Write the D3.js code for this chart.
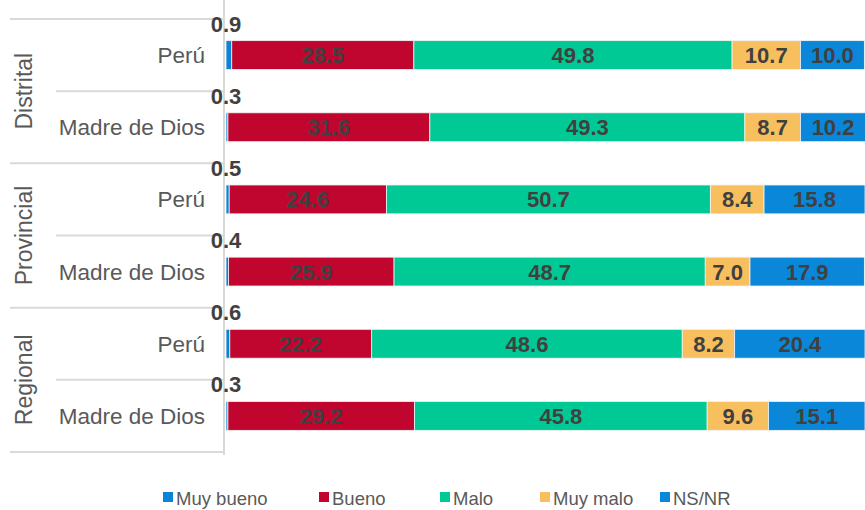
<!DOCTYPE html>
<meta charset="utf-8">
<style>
body, html {
    margin: 0;
    padding: 0;
    background: #fff;
    overflow: hidden;
}
text {
    font-family: "Liberation Sans", Arial, sans-serif;
}
</style>
<svg width="865" height="510"></svg>
<script src="https://cdn.jsdelivr.net/npm/d3@7"></script>
<script>

var groups = ["Distrital", "Provincial", "Regional"];
var places = ["Perú", "Madre de Dios"];
var series = ["Muy bueno", "Bueno", "Malo", "Muy malo", "NS/NR"];
var colors = ["#0a84d6", "#c0062f", "#00c995", "#f8bf5f", "#0a87d9"];

// one row per group/place, values in series order
var muyBueno = [0.9, 0.3, 0.5, 0.4, 0.6, 0.3];
var bueno    = [28.5, 31.6, 24.6, 25.9, 22.2, 29.2];
var malo     = [49.8, 49.3, 50.7, 48.7, 48.6, 45.8];
var muyMalo  = [10.7, 8.7, 8.4, 7.0, 8.2, 9.6];
var nsnr     = [10.0, 10.2, 15.8, 17.9, 20.4, 15.1];

var rows = [];
groups.forEach(function(g, gi) {
    places.forEach(function(p, pi) {
        var i = gi * 2 + pi;
        rows.push({ key: g + "|" + p, group: g, place: p,
            vals: [muyBueno[i], bueno[i], malo[i], muyMalo[i], nsnr[i]] });
    });
});

var svg = d3.select("svg");

var x = d3.scaleLinear().domain([0, 100]).range([226, 865]);
var y = d3.scaleBand().domain(rows.map(function(d) { return d.key; }))
    .range([19, 452]).paddingInner(0.6).paddingOuter(0.3);
var step = y.step();

// separators
var grid = svg.append("g").attr("stroke", "#d9d9d9").attr("stroke-width", 2);
rows.forEach(function(d, i) {
    var top = y(d.key) - step * y.paddingOuter();
    grid.append("line")
        .attr("x1", i % 2 === 0 ? 10 : 56).attr("x2", 224)
        .attr("y1", top).attr("y2", top);
});
grid.append("line").attr("x1", 10).attr("x2", 224).attr("y1", 452).attr("y2", 452);
grid.append("line").attr("x1", 224).attr("x2", 224).attr("y1", 0).attr("y2", 455);

// bars
rows.forEach(function(d) {
    var acc = 0;
    var g = svg.append("g");
    d.vals.forEach(function(v, si) {
        var x0 = acc;
        acc += v;
        g.append("rect")
            .attr("x", x(x0)).attr("y", y(d.key))
            .attr("width", Math.max(0, x(acc) - x(x0)))
            .attr("height", y.bandwidth())
            .attr("fill", colors[si])
            .attr("stroke", "#f2f2f2").attr("stroke-width", 0.8);
        if (si > 0) {
            g.append("text")
                .attr("x", (x(x0) + x(acc)) / 2)
                .attr("y", y(d.key) + y.bandwidth() / 2 + 8)
                .attr("text-anchor", "middle")
                .attr("font-size", 22).attr("font-weight", "bold")
                .attr("fill", "#404040")
                .text(d3.format(".1f")(v));
        } else {
            g.append("text")
                .attr("x", x(0))
                .attr("y", y(d.key) - 9)
                .attr("text-anchor", "middle")
                .attr("font-size", 22).attr("font-weight", "bold")
                .attr("fill", "#404040")
                .text(d3.format(".1f")(v));
        }
    });
    svg.append("text")
        .attr("x", 205)
        .attr("y", y(d.key) + y.bandwidth() / 2 + 8)
        .attr("text-anchor", "end")
        .attr("font-size", 22.5)
        .attr("fill", "#595959")
        .text(d.place);
});

// group labels
groups.forEach(function(g, gi) {
    var cy = (y(g + "|" + places[0]) + y(g + "|" + places[1]) + y.bandwidth()) / 2;
    svg.append("text")
        .attr("transform", "translate(32," + cy + ") rotate(-90)")
        .attr("text-anchor", "middle")
        .attr("font-size", 23)
        .attr("fill", "#595959")
        .text(g);
});

// legend
var legendX = [163, 319, 440, 540, 660];
var legend = svg.append("g");
series.forEach(function(s, i) {
    legend.append("rect")
        .attr("x", legendX[i]).attr("y", 492)
        .attr("width", 10).attr("height", 10)
        .attr("fill", colors[i]);
    legend.append("text")
        .attr("x", legendX[i] + 13).attr("y", 505)
        .attr("font-size", 18.5)
        .attr("fill", "#595959")
        .text(s);
});

</script>
